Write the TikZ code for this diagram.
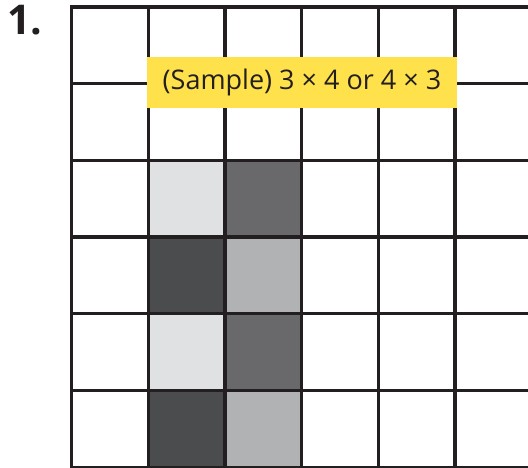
\documentclass[tikz,border=0pt]{standalone}
\usepackage{fontspec}
\setmainfont{Open Sans}
\definecolor{gridline}{HTML}{231F20}
\definecolor{lightg}{HTML}{E0E1E3}
\definecolor{darkg}{HTML}{4B4C4E}
\definecolor{medd}{HTML}{69696B}
\definecolor{medl}{HTML}{B1B2B4}
\definecolor{labelyellow}{HTML}{FFE14B}
\begin{document}
\begin{tikzpicture}[x=1pt,y=-1pt,
  gridstyle/.style={draw=gridline,line width=3.2pt},
  labelbox/.style={fill=labelyellow,inner sep=0pt,minimum width=310pt,minimum height=51pt,font=\fontsize{27}{32}\selectfont,text=gridline},
  numstyle/.style={font=\bfseries\fontsize{41}{48}\selectfont,text=gridline,inner sep=0pt}]
\useasboundingbox (0,0) rectangle (528,468);
% shaded cells
\def\cw{76.7}
\foreach \r/\ca/\cb in {2/lightg/medd,3/darkg/medl,4/lightg/medd,5/darkg/medl}{
  \fill[\ca] (148.2,7+\r*\cw) rectangle (224.9,7+\r*\cw+\cw);
  \fill[\cb] (224.9,7+\r*\cw) rectangle (301.6,7+\r*\cw+\cw);
}
% grid
\foreach \i in {0,...,5}{
  \draw[gridstyle] (71.5+\i*\cw,7) -- (71.5+\i*\cw,470);
}
\foreach \j in {0,...,6}{
  \draw[gridstyle] (71.5,7+\j*\cw) -- (530,7+\j*\cw);
}
\draw[gridstyle,line cap=rect] (71.5,7) -- (71.5,470);
% label
\node[labelbox] (label) at (302,82.5) {(Sample) 3 × 4 or 4 × 3};
\node[numstyle,anchor=north west] (num) at (7,5) {1.};
\end{tikzpicture}
\end{document}
